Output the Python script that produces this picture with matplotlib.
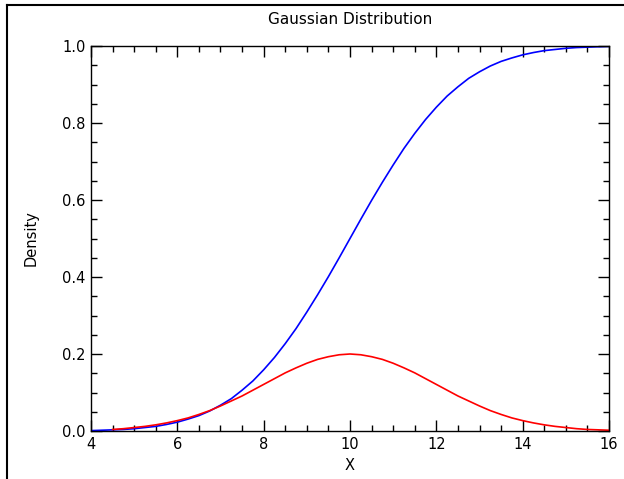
import numpy as np
import matplotlib
matplotlib.use('Agg')
import matplotlib.pyplot as plt
from matplotlib.ticker import MultipleLocator
from matplotlib.lines import Line2D

# values (step 0.25)
x_cdf = [4.0, 4.25, 4.5, 4.75, 5.0, 5.25, 5.5, 5.75, 6.0, 6.25, 6.5, 6.75,
         7.0, 7.25, 7.5, 7.75, 8.0, 8.25, 8.5, 8.75, 9.0, 9.25, 9.5, 9.75,
         10.0, 10.25, 10.5, 10.75, 11.0, 11.25, 11.5, 11.75, 12.0, 12.25,
         12.5, 12.75, 13.0, 13.25, 13.5, 13.75, 14.0, 14.25, 14.5, 14.75,
         15.0, 15.25, 15.5, 15.75, 16.0]
cdf = [0.001, 0.002, 0.003, 0.004, 0.006, 0.009, 0.012, 0.017, 0.023, 0.031,
       0.040, 0.052, 0.067, 0.084, 0.106, 0.130, 0.159, 0.191, 0.227, 0.266,
       0.309, 0.354, 0.401, 0.450, 0.500, 0.550, 0.599, 0.646, 0.691, 0.734,
       0.773, 0.809, 0.841, 0.870, 0.894, 0.916, 0.933, 0.948, 0.960, 0.969,
       0.977, 0.983, 0.988, 0.991, 0.994, 0.996, 0.997, 0.998, 0.999]

x_pdf = x_cdf[2:]
pdf = [0.004, 0.006, 0.009, 0.012, 0.016, 0.021, 0.027, 0.034, 0.043, 0.053,
       0.065, 0.078, 0.091, 0.106, 0.121, 0.136, 0.151, 0.164, 0.176, 0.186,
       0.193, 0.198, 0.200, 0.198, 0.193, 0.186, 0.176, 0.164, 0.151, 0.136,
       0.121, 0.106, 0.091, 0.078, 0.065, 0.053, 0.043, 0.034, 0.027, 0.021,
       0.016, 0.012, 0.009, 0.006, 0.004, 0.003, 0.002]

fs = 10.5
fig = plt.figure(figsize=(6.24, 4.79), dpi=100)
ax = fig.add_axes([91 / 624, 1 - 431 / 479, 518 / 624, 385 / 479])

ax.plot(x_cdf, cdf, color='blue', lw=1.2)
ax.plot(x_pdf, pdf, color='red', lw=1.2)

ax.set_xlim(4, 16)
ax.set_ylim(0, 1)
ax.xaxis.set_major_locator(MultipleLocator(2))
ax.xaxis.set_minor_locator(MultipleLocator(0.5))
ax.yaxis.set_major_locator(MultipleLocator(0.2))
ax.yaxis.set_minor_locator(MultipleLocator(0.05))
ax.yaxis.set_major_formatter(lambda v, p: '{:.1f}'.format(v))
ax.tick_params(which='both', direction='in', top=True, right=True,
               labelsize=fs, width=1.0)
ax.tick_params(which='major', length=8, pad=4)
ax.tick_params(which='minor', length=4)
for s in ax.spines.values():
    s.set_linewidth(1.0)

ax.set_title('Gaussian Distribution', fontsize=fs + 0.5, pad=16)
ax.set_xlabel('X', fontsize=fs, labelpad=5)
ax.set_ylabel('Density', fontsize=fs, labelpad=17)

# page border (top and left)
fig.add_artist(Line2D([7 / 624, 1], [1 - 5 / 479, 1 - 5 / 479], color='black', lw=1.5))
fig.add_artist(Line2D([7 / 624, 7 / 624], [0, 1 - 5 / 479], color='black', lw=1.5))

fig.savefig('out.png', dpi=100)
